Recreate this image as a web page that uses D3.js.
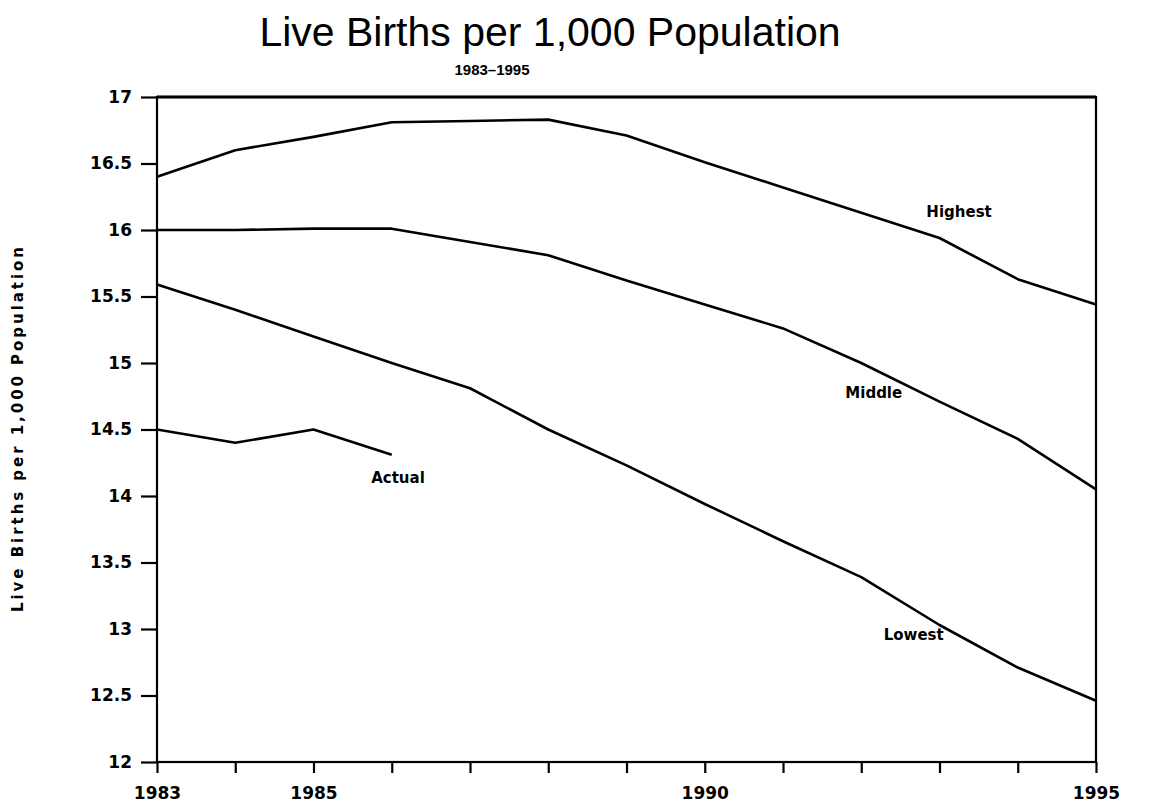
<!DOCTYPE html>
<html>
<head>
<meta charset="utf-8">
<script src="https://cdn.jsdelivr.net/npm/d3@7"></script>
<style>
  body { margin: 0; background: #fff; }
  svg { display: block; }
</style>
</head>
<body>
<div id="vis"></div>
<script>
// Dados (1983-1995)
const years = [1983, 1984, 1985, 1986, 1987, 1988, 1989, 1990, 1991, 1992, 1993, 1994, 1995];
const highest = [16.4, 16.6, 16.7, 16.81, 16.82, 16.83, 16.71, 16.51, 16.32, 16.13, 15.94, 15.63, 15.44];
const middle = [16.0, 16.0, 16.01, 16.01, 15.91, 15.81, 15.62, 15.44, 15.26, 15.0, 14.71, 14.43, 14.05];
const lowest = [15.59, 15.4, 15.2, 15.0, 14.81, 14.5, 14.23, 13.94, 13.66, 13.39, 13.03, 12.71, 12.46];
const actualYears = [1983, 1984, 1985, 1986];
const actual = [14.5, 14.4, 14.5, 14.31];

const yTicks = [12, 12.5, 13, 13.5, 14, 14.5, 15, 15.5, 16, 16.5, 17];
const xLabelYears = [1983, 1985, 1990, 1995];

const seriesNames = ["Highest", "Middle", "Lowest", "Actual"];

// Tamanho e margens
const W = 1152, H = 804;
const margin = { top: 97, right: 56, bottom: 42, left: 157 };
const width = W - margin.left - margin.right;
const height = H - margin.top - margin.bottom;

const svg = d3.select("#vis")
    .append("svg")
    .attr("width", W)
    .attr("height", H);

const g = svg.append("g")
    .attr("transform", `translate(${margin.left}, ${margin.top})`);

// Escalas
const x = d3.scaleLinear()
    .domain([years[0], years[years.length - 1]])
    .range([0, width]);

const y = d3.scaleLinear()
    .domain([12, 17])
    .range([height, 0]);

const tickFont = "'DejaVu Sans', sans-serif";

// Eixo Y
const yAxis = g.append("g")
    .call(d3.axisLeft(y)
        .tickValues(yTicks)
        .tickSize(16)
        .tickPadding(9)
        .tickFormat(d => String(d)));

// Eixo X
const xAxis = g.append("g")
    .attr("transform", `translate(0, ${height})`)
    .call(d3.axisBottom(x)
        .tickValues(years)
        .tickSize(11)
        .tickPadding(14)
        .tickFormat(d => xLabelYears.includes(d) ? String(d) : ""));

[yAxis, xAxis].forEach(a => {
    a.select(".domain").remove();
    a.selectAll(".tick line").attr("stroke", "#000").attr("stroke-width", 2.2);
    a.selectAll(".tick text")
        .attr("fill", "#000")
        .style("font-family", tickFont)
        .style("font-weight", "bold")
        .style("font-size", "17px");
});

// Moldura do gráfico
g.append("rect")
    .attr("x", 0)
    .attr("y", 0)
    .attr("width", width)
    .attr("height", height)
    .attr("fill", "none")
    .attr("stroke", "#000")
    .attr("stroke-width", 2.2);

g.append("line")
    .attr("x1", 0).attr("x2", width)
    .attr("y1", 0).attr("y2", 0)
    .attr("stroke", "#000")
    .attr("stroke-width", 3);

// Linhas das séries
const line = d3.line()
    .x(d => x(d[0]))
    .y(d => y(d[1]));

const series = [
    d3.zip(years, highest),
    d3.zip(years, middle),
    d3.zip(years, lowest),
    d3.zip(actualYears, actual)
];

g.selectAll("path.series")
    .data(series)
    .enter()
    .append("path")
    .attr("class", "series")
    .attr("d", line)
    .attr("fill", "none")
    .attr("stroke", "#000")
    .attr("stroke-width", 2.6)
    .attr("stroke-linejoin", "round");

// Rótulos das séries (posição em coordenadas de dados)
const labelPos = [[1993.25, 16.135], [1992.16, 14.77], [1992.67, 12.95], [1986.08, 14.135]];

g.selectAll("text.label")
    .data(seriesNames)
    .enter()
    .append("text")
    .attr("class", "label")
    .attr("x", (d, i) => x(labelPos[i][0]))
    .attr("y", (d, i) => y(labelPos[i][1]))
    .attr("text-anchor", "middle")
    .attr("dominant-baseline", "middle")
    .style("font-family", tickFont)
    .style("font-weight", "bold")
    .style("font-size", "15px")
    .text(d => d);

// Títulos
svg.append("text")
    .attr("x", 550)
    .attr("y", 46)
    .attr("text-anchor", "middle")
    .style("font-family", "'Liberation Sans', Arial, sans-serif")
    .style("font-size", "41px")
    .text("Live Births per 1,000 Population");

svg.append("text")
    .attr("x", 492)
    .attr("y", 75)
    .attr("text-anchor", "middle")
    .style("font-family", "'Liberation Sans', Arial, sans-serif")
    .style("font-weight", "bold")
    .style("font-size", "15px")
    .text("1983\u20131995");

svg.append("text")
    .attr("transform", `translate(23, ${margin.top + height / 2}) rotate(-90)`)
    .attr("text-anchor", "middle")
    .attr("textLength", 365)
    .attr("lengthAdjust", "spacing")
    .style("font-family", tickFont)
    .style("font-weight", "bold")
    .style("font-size", "15px")
    .text("Live Births per 1,000 Population");
</script>
</body>
</html>
